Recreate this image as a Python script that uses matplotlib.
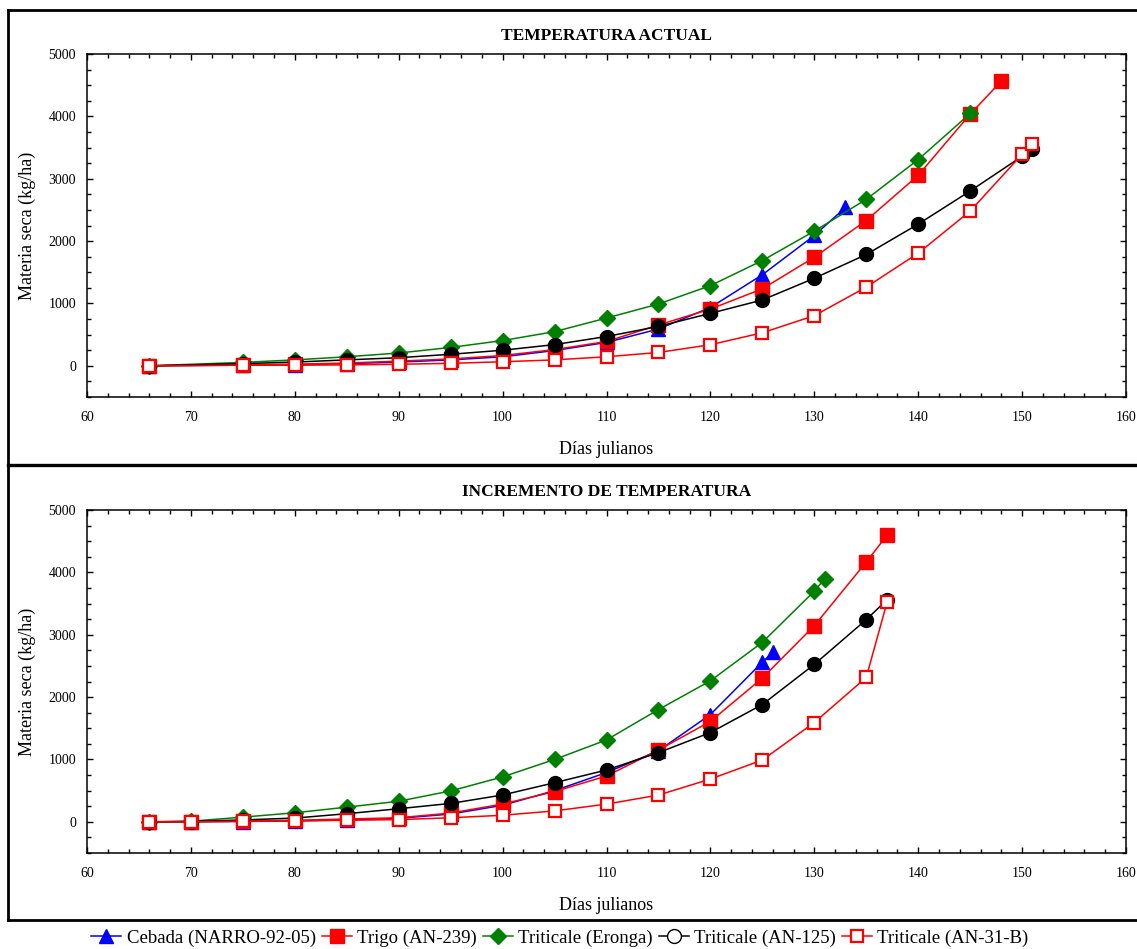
import matplotlib
matplotlib.use('Agg')
import matplotlib.pyplot as plt
from matplotlib.lines import Line2D
from matplotlib.ticker import MultipleLocator

plt.rcParams['font.family'] = ['Liberation Serif', 'DejaVu Serif']

# ---------------- data ----------------
# Panel 1: TEMPERATURA ACTUAL
cebada_top_days = [66, 75, 80, 85, 90, 95, 100, 105, 110, 115, 120, 125, 130, 133]
cebada_top = [0, 10, 20, 35, 60, 95, 145, 245, 375, 590, 935, 1460, 2090, 2540]

trigo_top_days = [66, 75, 80, 85, 90, 95, 100, 105, 110, 115, 120, 125, 130, 135, 140, 145, 148]
trigo_top = [0, 15, 25, 45, 75, 110, 165, 260, 390, 655, 910, 1235, 1740, 2330, 3055, 4035, 4565]

eronga_top_days = [66, 75, 80, 85, 90, 95, 100, 105, 110, 115, 120, 125, 130, 135, 140, 145]
eronga_top = [0, 55, 95, 145, 205, 295, 405, 548, 766, 991, 1286, 1688, 2160, 2669, 3307, 4046]

an125_top_days = [66, 75, 80, 85, 90, 95, 100, 105, 110, 115, 120, 125, 130, 135, 140, 145, 150, 151]
an125_top = [0, 35, 60, 95, 130, 185, 250, 340, 470, 632, 841, 1056, 1404, 1785, 2272, 2803, 3360, 3483]

an31b_top_days = [66, 75, 80, 85, 90, 95, 100, 105, 110, 115, 120, 125, 130, 135, 140, 145, 150, 151]
an31b_top = [0, 10, 10, 15, 25, 40, 65, 95, 145, 214, 338, 530, 804, 1262, 1806, 2481, 3392, 3564]

# Panel 2: INCREMENTO DE TEMPERATURA
cebada_bot_days = [66, 70, 75, 80, 85, 90, 95, 100, 105, 110, 115, 120, 125, 126]
cebada_bot = [0, 2, 5, 15, 30, 55, 125, 265, 500, 790, 1140, 1720, 2560, 2720]

trigo_bot_days = [66, 70, 75, 80, 85, 90, 95, 100, 105, 110, 115, 120, 125, 130, 135, 137]
trigo_bot = [0, 3, 10, 25, 45, 65, 140, 285, 485, 735, 1150, 1610, 2305, 3145, 4165, 4595]

eronga_bot_days = [66, 70, 75, 80, 85, 90, 95, 100, 105, 110, 115, 120, 125, 130, 131]
eronga_bot = [0, 10, 75, 145, 235, 330, 495, 720, 1000, 1313, 1800, 2261, 2878, 3698, 3896]

an125_bot_days = [66, 70, 75, 80, 85, 90, 95, 100, 105, 110, 115, 120, 125, 130, 135, 137]
an125_bot = [0, 5, 30, 60, 130, 210, 295, 430, 627, 831, 1109, 1431, 1881, 2524, 3242, 3560]

an31b_bot_days = [66, 70, 75, 80, 85, 90, 95, 100, 105, 110, 115, 120, 125, 130, 135, 137]
an31b_bot = [0, 0, 10, 15, 25, 35, 65, 105, 175, 284, 429, 686, 991, 1592, 2315, 3521]

series_labels = ['Cebada (NARRO-92-05)', 'Trigo (AN-239)', 'Triticale (Eronga)',
                 'Triticale (AN-125)', 'Triticale (AN-31-B)']
panel_titles = ['TEMPERATURA ACTUAL', 'INCREMENTO DE TEMPERATURA']
x_label = 'Días julianos'
y_label = 'Materia seca (kg/ha)'

# ---------------- figure ----------------
W, H = 1137, 949
fig = plt.figure(figsize=(W / 100, H / 100), dpi=100)

def fx(px):
    return px / W

def fy(py):
    return 1 - py / H

ax_top = fig.add_axes([fx(87), fy(397), fx(1126) - fx(87), fy(54) - fy(397)])
ax_bot = fig.add_axes([fx(87), fy(853), fx(1126) - fx(87), fy(510) - fy(853)])

styles = [
    dict(color='#0000ff', marker='^', ms=10.5, mfc='#0000ff', mec='#0000ff'),
    dict(color='#ff0000', marker='s', ms=10, mfc='#ff0000', mec='#ff0000'),
    dict(color='#008000', marker='D', ms=8, mfc='#008000', mec='#008000'),
    dict(color='#000000', marker='o', ms=10, mfc='#000000', mec='#000000'),
    dict(color='#ff0000', marker='s', ms=9, mfc='white', mec='#ff0000', mew=1.6),
]

top_series = [(cebada_top_days, cebada_top), (trigo_top_days, trigo_top),
              (eronga_top_days, eronga_top), (an125_top_days, an125_top),
              (an31b_top_days, an31b_top)]
bot_series = [(cebada_bot_days, cebada_bot), (trigo_bot_days, trigo_bot),
              (eronga_bot_days, eronga_bot), (an125_bot_days, an125_bot),
              (an31b_bot_days, an31b_bot)]

for ax, series, title in [(ax_top, top_series, panel_titles[0]),
                          (ax_bot, bot_series, panel_titles[1])]:
    for (xd, yd), st, lab in zip(series, styles, series_labels):
        ax.plot(xd, yd, lw=1.1, label=lab, clip_on=False, **st)
    ax.set_xlim(60, 160)
    ax.set_ylim(-500, 5000)
    ax.xaxis.set_major_locator(MultipleLocator(10))
    ax.xaxis.set_minor_locator(MultipleLocator(2))
    ax.yaxis.set_major_locator(MultipleLocator(1000))
    ax.yaxis.set_minor_locator(MultipleLocator(250))
    ax.tick_params(which='both', direction='in', top=True, right=True, width=1.0,
                   labelsize=10)
    ax.tick_params(which='major', length=4.5)
    ax.tick_params(which='minor', length=2.8)
    ax.tick_params(axis='x', pad=10)
    ax.tick_params(axis='y', pad=8)
    for sp in ax.spines.values():
        sp.set_linewidth(1.1)
    ax.set_xlabel(x_label, fontsize=13, labelpad=12.5)
    ax.set_ylabel(y_label, fontsize=13, labelpad=9)
    ax.set_title(title, fontsize=12.5, fontweight='bold', pad=10)

# outer frame lines
lw_frame = 2.0
fig.add_artist(Line2D([fx(8), 1], [fy(10), fy(10)], color='black', lw=lw_frame))
fig.add_artist(Line2D([fx(8), fx(8)], [fy(10), fy(920)], color='black', lw=lw_frame))
fig.add_artist(Line2D([fx(8), 1], [fy(465), fy(465)], color='black', lw=2.4))
fig.add_artist(Line2D([fx(8), 1], [fy(920), fy(920)], color='black', lw=lw_frame))

# legend
handles = [
    Line2D([], [], color='#0000ff', marker='^', ms=10.5, mfc='#0000ff', mec='#0000ff', lw=1.1),
    Line2D([], [], color='#ff0000', marker='s', ms=10, mfc='#ff0000', mec='#ff0000', lw=1.1),
    Line2D([], [], color='#008000', marker='D', ms=8, mfc='#008000', mec='#008000', lw=1.1),
    Line2D([], [], color='#000000', marker='o', ms=10, mfc='white', mec='#000000', lw=1.1),
    Line2D([], [], color='#ff0000', marker='s', ms=9, mfc='white', mec='#ff0000', mew=1.6, lw=1.1),
]
fig.legend(handles, series_labels, loc='center', bbox_to_anchor=(fx(560), fy(938)),
           ncol=5, frameon=False, fontsize=13.5, handlelength=1.6,
           handletextpad=0.3, columnspacing=0.3, borderpad=0, borderaxespad=0)

fig.savefig('out.png', dpi=100)
